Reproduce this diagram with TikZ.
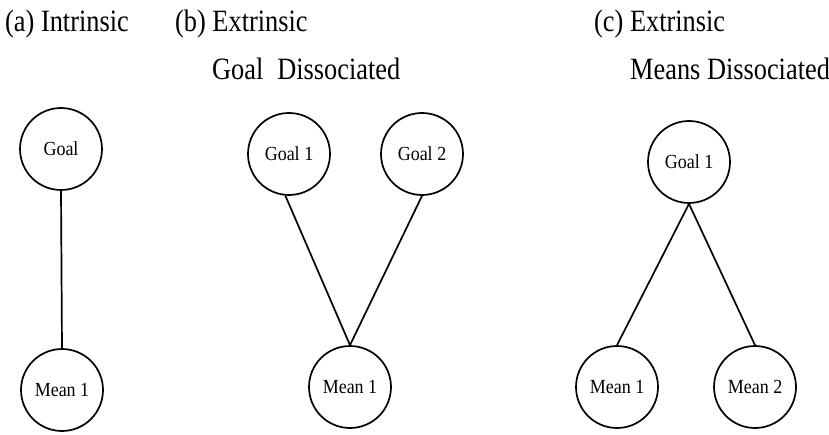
\documentclass[tikz,border=0pt]{standalone}
\usepackage{fontspec}
\setmainfont{Liberation Serif}
% narrow serif faces for the headings and the circle labels
\newfontfamily\headfont[FakeStretch=0.85]{Liberation Serif}
\newfontfamily\labelfont[FakeStretch=0.9]{Liberation Serif}
\begin{document}
\begin{tikzpicture}[x=1pt,y=-1pt,
  concept/.style={circle,draw,line width=1.7pt,minimum size=82pt,inner sep=0pt,
    font=\labelfont\fontsize{20}{22}\selectfont},
  link/.style={line width=1.7pt},
  caption/.style={anchor=base west,inner sep=0pt,font=\headfont\fontsize{31}{34}\selectfont}]
\useasboundingbox (0,0) rectangle (829,435);

% headings
\node[caption] (ta)  at (5,32)   {(a) Intrinsic};
\node[caption] (tb)  at (175,32) {(b) Extrinsic};
\node[caption] (tb2) at (212,80) {Goal\hspace{0.45em}Dissociated};
\node[caption] (tc)  at (594,32) {(c) Extrinsic};
\node[caption] (tc2) at (630,80) {Means Dissociated};

% (a) intrinsic
\node[concept] (ag) at (61,149) {Goal};
\node[concept] (am) at (62,390) {Mean 1};
\draw[link] (ag.south) -- (am.north);

% (b) goal dissociated
\node[concept] (bg1) at (289,154) {Goal 1};
\node[concept] (bg2) at (422,154) {Goal 2};
\node[concept] (bm)  at (350,387) {Mean 1};
\draw[link] (bg1.265) -- (bm.north);
\draw[link] (bg2.south) -- (bm.north);

% (c) means dissociated
\node[concept] (cg)  at (689,162) {Goal 1};
\node[concept] (cm1) at (617,387) {Mean 1};
\node[concept] (cm2) at (755,387) {Mean 2};
\draw[link] (cg.south) -- (cm1.north);
\draw[link] (cg.south) -- (cm2.north);
\end{tikzpicture}
\end{document}
